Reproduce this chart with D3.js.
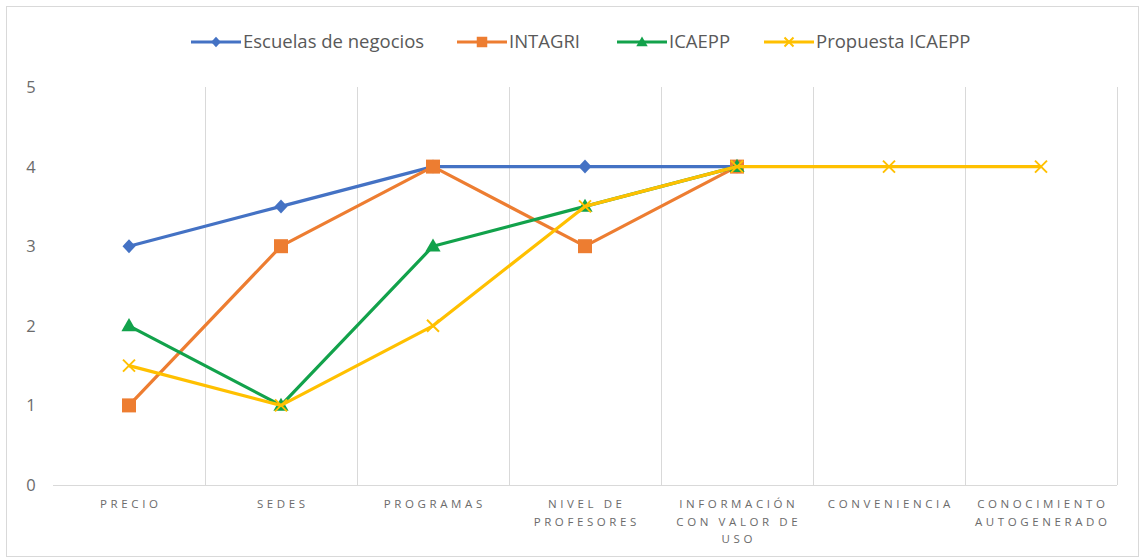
<!DOCTYPE html>
<html>
<head>
<meta charset="utf-8">
<script src="https://cdn.jsdelivr.net/npm/d3@7"></script>
<style>
  body { margin: 0; background: #fff; }
  text { font-family: "Open Sans", sans-serif; }
</style>
</head>
<body>
<div id="chart"></div>
<script>
const width = 1142;
const height = 560;

// categories (x axis), each label split into lines
const categories = ["PRECIO", "SEDES", "PROGRAMAS", "NIVEL DE PROFESORES",
  "INFORMACIÓN CON VALOR DE USO", "CONVENIENCIA", "CONOCIMIENTO AUTOGENERADO"];
const categoryLines = [["PRECIO"], ["SEDES"], ["PROGRAMAS"], ["NIVEL DE", "PROFESORES"],
  ["INFORMACIÓN", "CON VALOR DE", "USO"], ["CONVENIENCIA"], ["CONOCIMIENTO", "AUTOGENERADO"]];

// series values (null = no point)
const escuelas = [3, 3.5, 4, 4, 4, null, null];
const intagri = [1, 3, 4, 3, 4, null, null];
const icaepp = [2, 1, 3, 3.5, 4, null, null];
const propuesta = [1.5, 1, 2, 3.5, 4, 4, 4];

const yTicks = [0, 1, 2, 3, 4, 5];

const series = [
  { name: "Escuelas de negocios", values: escuelas, color: "#4472C4", marker: "diamond", lx: 191 },
  { name: "INTAGRI", values: intagri, color: "#ED7D31", marker: "square", lx: 457 },
  { name: "ICAEPP", values: icaepp, color: "#12A24B", marker: "triangle", lx: 617 },
  { name: "Propuesta ICAEPP", values: propuesta, color: "#FFC000", marker: "x", lx: 764 }
];

const margin = { left: 53, right: 25, top: 87, bottom: 75 };

const svg = d3.select("#chart").append("svg")
    .attr("width", width)
    .attr("height", height);

// outer frame
svg.append("rect")
    .attr("x", 6.5).attr("y", 6.5)
    .attr("width", width - 10).attr("height", height - 10)
    .attr("fill", "#fff").attr("stroke", "#d9d9d9");

const x = d3.scaleBand()
    .domain(categories)
    .range([margin.left, width - margin.right]);

const y = d3.scaleLinear()
    .domain([0, 5])
    .range([height - margin.bottom, margin.top]);

// vertical grid lines at category boundaries
const bounds = categories.map(c => x(c)).concat([x.range()[1]]);
svg.append("g").selectAll("line")
    .data(bounds.slice(1))
    .enter().append("line")
    .attr("x1", d => Math.round(d) + 0.5).attr("x2", d => Math.round(d) + 0.5)
    .attr("y1", y(5)).attr("y2", y(0))
    .attr("stroke", "#d9d9d9").attr("stroke-width", 1);

// x axis baseline
svg.append("line")
    .attr("x1", x.range()[0]).attr("x2", x.range()[1])
    .attr("y1", Math.round(y(0)) + 0.5).attr("y2", Math.round(y(0)) + 0.5)
    .attr("stroke", "#d9d9d9");

// y tick labels
svg.append("g").selectAll("text")
    .data(yTicks)
    .enter().append("text")
    .attr("x", 31)
    .attr("y", d => y(d) + 6)
    .attr("text-anchor", "middle")
    .attr("fill", "#6b6b6b")
    .style("font-size", "16.5px")
    .text(d => d);

// x labels
const xl = svg.append("g").selectAll("text")
    .data(categories)
    .enter().append("text")
    .attr("x", d => x(d) + x.bandwidth() / 2)
    .attr("y", 508)
    .attr("text-anchor", "middle")
    .attr("fill", "#6b6b6b")
    .style("font-size", "11.5px")
    .style("letter-spacing", "3.6px");
xl.each(function(d, i) {
  d3.select(this).selectAll("tspan")
    .data(categoryLines[i])
    .enter().append("tspan")
    .attr("x", x(d) + x.bandwidth() / 2 + 1.8)
    .attr("dy", (t, j) => j === 0 ? 0 : 17.5)
    .text(t => t);
});

function drawMarker(g, type, color, cx, cy, k = 1) {
  if (type === "diamond") {
    const w = 6.5 * k, h = 7 * k;
    g.append("path").attr("d", `M${cx},${cy - h}L${cx + w},${cy}L${cx},${cy + h}L${cx - w},${cy}Z`)
      .attr("fill", color);
  } else if (type === "square") {
    const h = 7 * k;
    g.append("rect").attr("x", cx - h).attr("y", cy - h).attr("width", 2 * h).attr("height", 2 * h)
      .attr("fill", color);
  } else if (type === "triangle") {
    g.append("path").attr("d", d3.symbol(d3.symbolTriangle, 100 * k * k)())
      .attr("transform", `translate(${cx},${cy + 1})`).attr("fill", color);
  } else {
    const h = 6 * k;
    g.append("path").attr("d", `M${cx - h},${cy - h}L${cx + h},${cy + h}M${cx - h},${cy + h}L${cx + h},${cy - h}`)
      .attr("stroke", color).attr("stroke-width", 2).attr("fill", "none");
  }
}

const line = d3.line()
    .defined(d => d.v != null)
    .x(d => x(d.c) + x.bandwidth() / 2)
    .y(d => y(d.v));

series.forEach(s => {
  const pts = s.values.map((v, i) => ({ c: categories[i], v }));
  const g = svg.append("g");
  g.append("path")
    .datum(pts)
    .attr("d", line)
    .attr("fill", "none")
    .attr("stroke", s.color)
    .attr("stroke-width", 3.2)
    .attr("stroke-linejoin", "round");
  pts.filter(p => p.v != null).forEach(p => {
    drawMarker(g, s.marker, s.color, x(p.c) + x.bandwidth() / 2, y(p.v));
  });
});

// legend
const legend = svg.append("g");
series.forEach(s => {
  const ly = 42;
  legend.append("line")
    .attr("x1", s.lx).attr("x2", s.lx + 50)
    .attr("y1", ly).attr("y2", ly)
    .attr("stroke", s.color).attr("stroke-width", 3.2);
  drawMarker(legend.append("g"), s.marker, s.color, s.lx + 25, ly, 0.75);
  legend.append("text")
    .attr("x", s.lx + 52)
    .attr("y", ly + 6)
    .attr("fill", "#595959")
    .style("font-size", "18.5px")
    .text(s.name);
});
</script>
</body>
</html>
